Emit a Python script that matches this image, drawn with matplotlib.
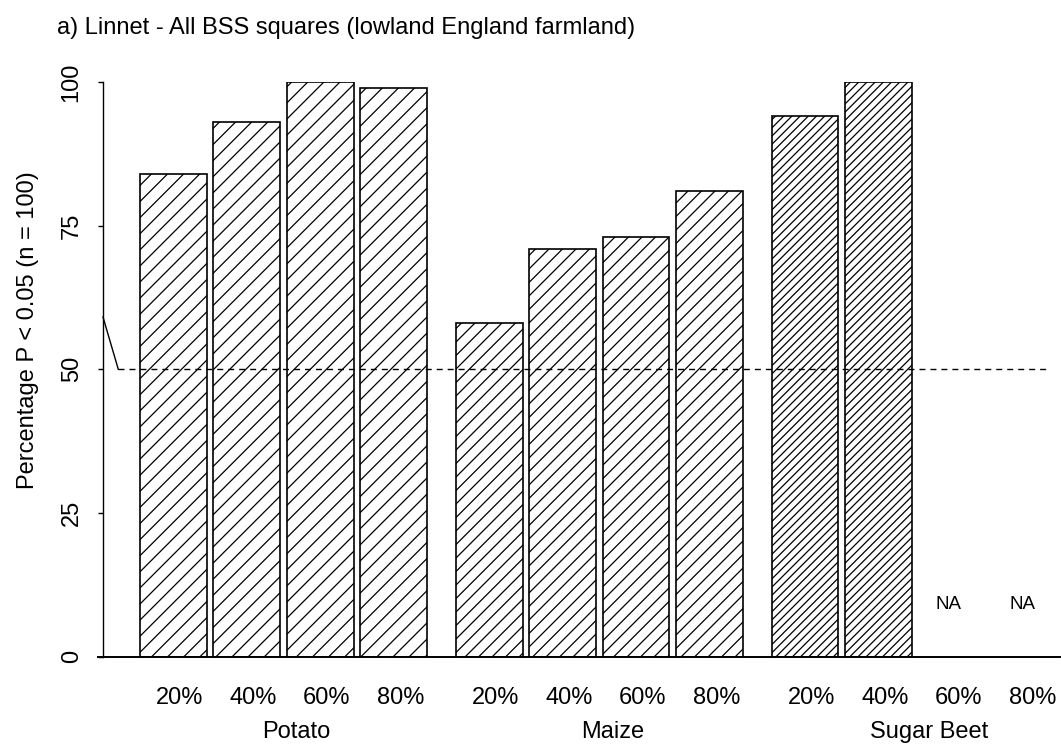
import numpy as np
import matplotlib
matplotlib.use('Agg')
import matplotlib.pyplot as plt
from matplotlib.collections import LineCollection

plt.rcParams['font.family'] = ['Liberation Sans', 'DejaVu Sans']

# Data
crops = ['Potato', 'Maize', 'Sugar Beet']
levels = ['20%', '40%', '60%', '80%']
potato = [84, 93, 100, 99]
maize = [58, 71, 73, 81]
sugar_beet = [94, 100, np.nan, np.nan]
hatch_gap_px = [16.1, 13.5, 8.2]   # diagonal shading spacing per crop (pixels)

W, H = 1061, 744
fig = plt.figure(figsize=(W / 100, H / 100), dpi=100)
ax = fig.add_axes([103 / W, 1 - 656.7 / H, (W - 103) / W, (656.7 - 82) / H])
ax.set_ylim(0, 100)
ax.set_xlim(0, (W - 103) / 66.8)

group_step = 4.73
bar_step = 1.1
first_left = 0.55
fs = 17

for g, (crop, vals) in enumerate(zip(crops, [potato, maize, sugar_beet])):
    lefts = first_left + g * group_step + bar_step * np.arange(len(levels))
    centers = lefts + 0.5
    vals = np.array(vals, dtype=float)
    ok = ~np.isnan(vals)
    bars = ax.bar(centers[ok], vals[ok], width=1.0, facecolor='white',
                  edgecolor='black', linewidth=1.2, zorder=2)

    # shading lines at 45 degrees in pixel space, clipped to each bar
    s = hatch_gap_px[g]
    for b in bars:
        (x0, y0), (x1, y1) = ax.transData.transform(
            [(b.get_x(), 0), (b.get_x() + b.get_width(), b.get_height())])
        cs = np.arange(np.floor((y0 - x1) / s) * s, y1 - x0 + s, s)
        segs = []
        for c in cs:
            p = ax.transData.inverted().transform([(x0 - 2, x0 - 2 + c), (x1 + 2, x1 + 2 + c)])
            segs.append(p)
        lc = LineCollection(segs, colors='black', linewidths=0.9, zorder=3)
        ax.add_collection(lc)
        lc.set_clip_path(b)

    for i, lab in enumerate(levels):
        ax.text(centers[i] + 0.1, -8.23, lab, ha='center', va='baseline', fontsize=fs)
        if np.isnan(vals[i]):
            ax.text(centers[i] - 0.05, 8.25, 'NA', ha='center', va='baseline', fontsize=13.5)
    ax.text(lefts[0] + 2.15 + 0.2, -14.1, crop, ha='center', va='baseline', fontsize=fs)

# reference line at 50 and its connector to the axis
ax.plot([0.229, 14.18], [50, 50], color='black', linewidth=1,
        linestyle=(0, (4.3, 3.6)), zorder=4, clip_on=False)
ax.plot([0, 0.229], [59.1, 50], color='black', linewidth=1, zorder=4, clip_on=False)

# baseline
ax.plot([-0.075, 14.33], [0, 0], color='black', linewidth=1.4, zorder=4, clip_on=False)

for sp in ['top', 'right', 'bottom']:
    ax.spines[sp].set_visible(False)
ax.spines['left'].set_bounds(0, 100)
ax.spines['left'].set_linewidth(1)
ax.set_xticks([])
ax.set_yticks([0, 25, 50, 75, 100])
ax.set_yticklabels(['0', '25', '50', '75', '100'], rotation=90, va='center', fontsize=fs)
ax.tick_params(axis='y', length=3.6, width=1, pad=11)

fig.text(28 / W, 1 - 330 / H, 'Percentage P < 0.05 (n = 100)', rotation=90,
         ha='center', va='center', fontsize=fs)
fig.text(57 / W, 1 - 34.3 / H, 'a) Linnet - All BSS squares (lowland England farmland)',
         ha='left', va='baseline', fontsize=fs)

fig.savefig('out.png', dpi=100, facecolor='white')
